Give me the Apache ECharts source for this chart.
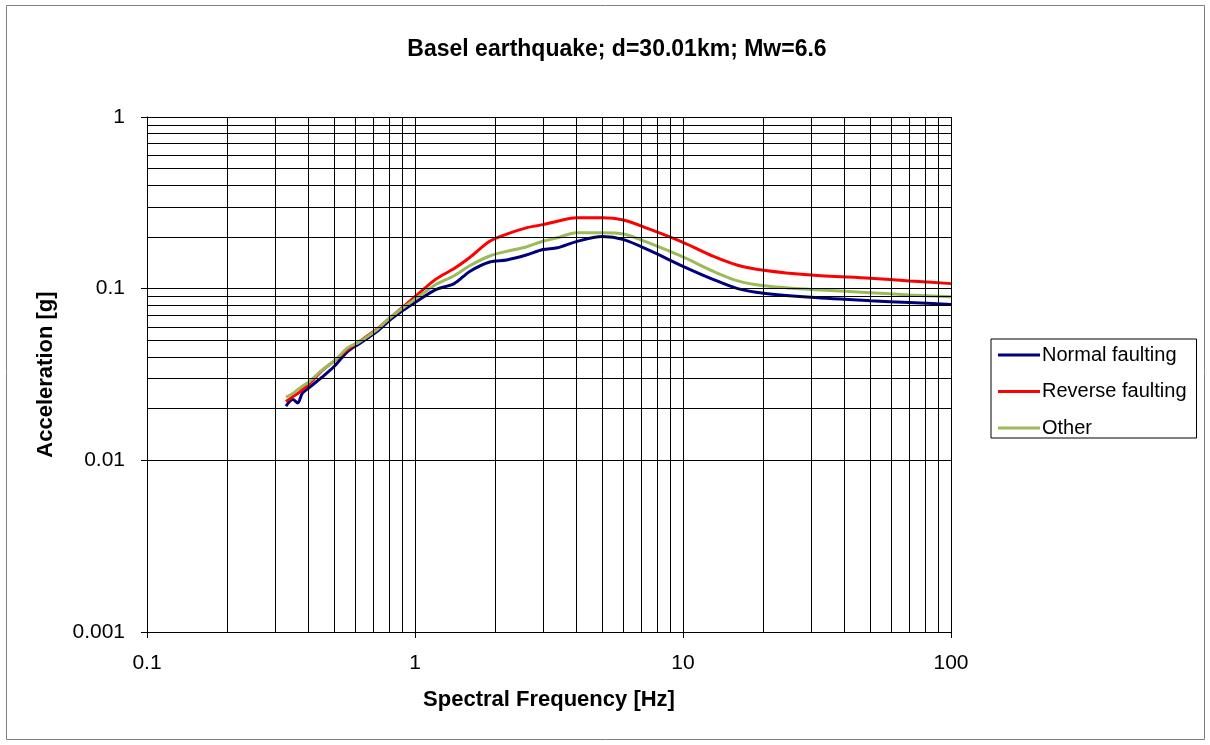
<!DOCTYPE html>
<html>
<head>
<meta charset="utf-8">
<script src="https://cdn.jsdelivr.net/npm/echarts@6/dist/echarts.min.js"></script>
<style>
  html, body { margin: 0; padding: 0; background: #fff; }
  #chart { width: 1210px; height: 745px; }
</style>
</head>
<body>
<div id="chart"></div>
<script>
// Spectral frequencies [Hz]
const freqs = [0.33, 0.35, 0.365, 0.38, 0.4, 0.45, 0.5, 0.56, 0.62, 0.72, 0.8, 0.9, 1.0, 1.2, 1.4, 1.6, 1.9, 2.2, 2.6, 3.0, 3.4, 4.0, 5.0, 6.0, 7.5, 10, 13, 16, 20, 30, 50, 70, 100];

// Spectral acceleration [g]
const normalFaulting = [0.0207, 0.0226, 0.0216, 0.0246, 0.0263, 0.0305, 0.0353, 0.043, 0.0478, 0.0562, 0.065, 0.0745, 0.083, 0.099, 0.107, 0.126, 0.143, 0.147, 0.157, 0.169, 0.173, 0.188, 0.201, 0.193, 0.167, 0.135, 0.113, 0.100, 0.094, 0.089, 0.085, 0.083, 0.081];
const reverseFaulting = [0.022, 0.0235, 0.0245, 0.0258, 0.0275, 0.0333, 0.038, 0.0442, 0.0492, 0.058, 0.067, 0.078, 0.0898, 0.114, 0.131, 0.152, 0.189, 0.208, 0.226, 0.236, 0.247, 0.259, 0.259, 0.251, 0.222, 0.186, 0.154, 0.137, 0.128, 0.120, 0.115, 0.111, 0.107];
const otherFaulting = [0.0233, 0.0245, 0.0258, 0.027, 0.0285, 0.0335, 0.038, 0.0452, 0.049, 0.0575, 0.067, 0.077, 0.0867, 0.106, 0.119, 0.136, 0.155, 0.165, 0.175, 0.189, 0.198, 0.212, 0.212, 0.208, 0.184, 0.153, 0.126, 0.111, 0.104, 0.099, 0.0948, 0.092, 0.0898];

const seriesNames = ['Normal faulting', 'Reverse faulting', 'Other'];
const seriesColors = ['#00007f', '#ff0000', '#9bbb59'];

// Log-decade gridline positions
const xGridValues = [];
for (const d of [0.1, 1, 10]) for (let m = 1; m <= 9; m++) xGridValues.push(+(d * m).toPrecision(3));
xGridValues.push(100);
const yGridValues = [];
for (const d of [0.001, 0.01, 0.1]) for (let m = 1; m <= 9; m++) yGridValues.push(+(d * m).toPrecision(3));
yGridValues.push(1);

const pairs = vals => freqs.map((f, i) => [f, vals[i]]);
const FONT = '"Liberation Sans", Arial, sans-serif';

const chart = echarts.init(document.getElementById('chart'), null, { renderer: 'canvas' });

const gridLines = xGridValues.map(v => ({ xAxis: v })).concat(yGridValues.map(v => ({ yAxis: v })));

chart.setOption({
  backgroundColor: '#fff',
  animation: false,
  title: {
    text: 'Basel earthquake; d=30.01km; Mw=6.6',
    left: 612,
    top: 33,
    textAlign: 'center',
    textStyle: { fontFamily: FONT, fontSize: 23, fontWeight: 'bold', color: '#000' }
  },
  graphic: [{
    type: 'rect',
    shape: { x: 6.5, y: 5.5, width: 1198, height: 734 },
    style: { fill: null, stroke: '#7f7f7f', lineWidth: 1 },
    silent: true
  }],
  legend: {
    orient: 'vertical',
    left: 991,
    top: 339,
    padding: [6, 10, 0, 7],
    itemGap: 16.5,
    itemWidth: 42,
    itemHeight: 3,
    icon: 'rect',
    borderColor: '#000',
    borderWidth: 1,
    textStyle: { fontFamily: FONT, fontSize: 20, color: '#000', padding: [0, 0, 0, -3] },
    data: seriesNames
  },
  grid: { left: 147, top: 117, right: 259, bottom: 113, containLabel: false },
  xAxis: {
    type: 'log',
    logBase: 10,
    min: 0.1,
    max: 100,
    name: 'Spectral Frequency [Hz]',
    nameLocation: 'middle',
    nameGap: 57,
    nameTextStyle: { fontFamily: FONT, fontSize: 22, fontWeight: 'bold', color: '#000' },
    axisLine: { show: true, lineStyle: { color: '#000', width: 1 } },
    axisTick: { show: true, length: 6, lineStyle: { color: '#000' } },
    axisLabel: { fontFamily: FONT, fontSize: 21, color: '#000', margin: 21,
      formatter: v => String(+v.toPrecision(3)) },
    splitLine: { show: false },
    minorTick: { show: false },
    minorSplitLine: { show: false }
  },
  yAxis: {
    type: 'log',
    logBase: 10,
    min: 0.001,
    max: 1,
    name: 'Acceleration [g]',
    nameLocation: 'middle',
    nameGap: 90,
    nameRotate: 90,
    nameTextStyle: { fontFamily: FONT, fontSize: 22, fontWeight: 'bold', color: '#000' },
    axisLine: { show: true, lineStyle: { color: '#000', width: 1 } },
    axisTick: { show: true, length: 6, lineStyle: { color: '#000' } },
    axisLabel: { fontFamily: FONT, fontSize: 21, color: '#000', margin: 22,
      formatter: v => String(+v.toPrecision(3)) },
    splitLine: { show: false },
    minorTick: { show: false },
    minorSplitLine: { show: false }
  },
  series: [
    {
      name: '__grid',
      type: 'line',
      data: [[1, 0.1]],
      showSymbol: false,
      lineStyle: { opacity: 0 },
      silent: true,
      z: 1,
      markLine: {
        silent: true,
        symbol: ['none', 'none'],
        label: { show: false },
        lineStyle: { color: '#000', width: 1, type: 'solid' },
        emphasis: { disabled: true },
        data: gridLines
      }
    },
    ...[normalFaulting, reverseFaulting, otherFaulting].map((vals, i) => ({
      name: seriesNames[i],
      type: 'line',
      data: pairs(vals),
      smooth: 0.3,
      showSymbol: false,
      symbol: 'none',
      z: 3,
      color: seriesColors[i],
      lineStyle: { color: seriesColors[i], width: 3 }
    }))
  ]
});
</script>
</body>
</html>
